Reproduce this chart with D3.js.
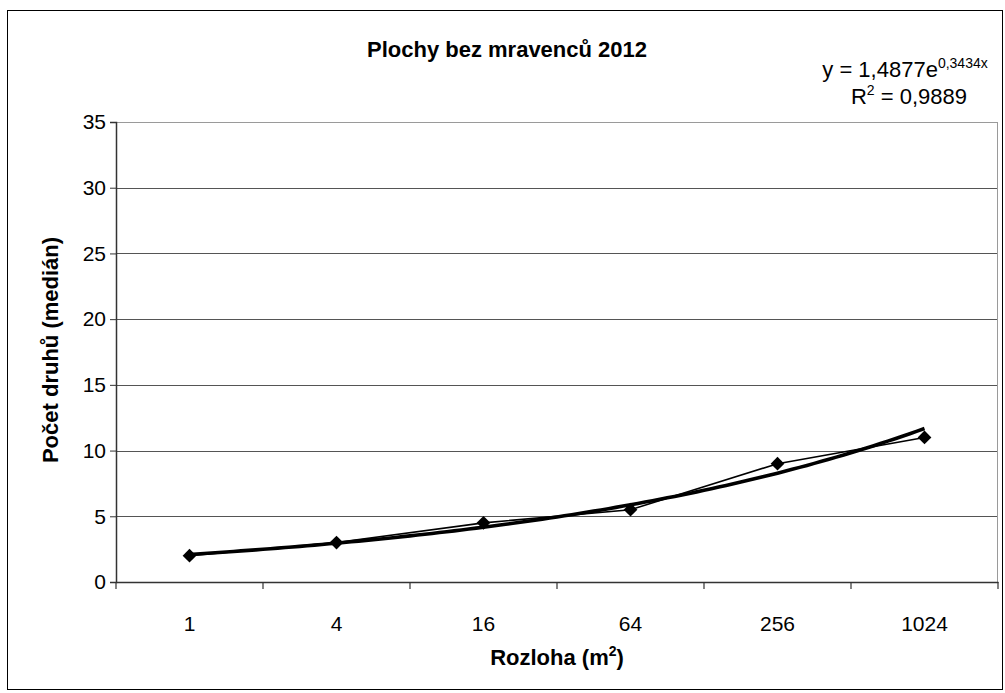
<!DOCTYPE html>
<html>
<head>
<meta charset="utf-8">
<script src="https://cdn.jsdelivr.net/npm/d3@7"></script>
<style>
  body { margin: 0; background: #fff; }
  text { font-family: "Liberation Sans", Arial, sans-serif; }
</style>
</head>
<body>
<svg id="chart"></svg>
<script>
const width = 1005, height = 693;

// data
const categories = ["1", "4", "16", "64", "256", "1024"];
const values = [2, 3, 4.5, 5.5, 9, 11];
const yTicks = [0, 5, 10, 15, 20, 25, 30, 35];
// exponential trendline as printed on the chart
const trendA = 1.4877, trendB = 0.3434;

const margin = {left: 116, right: 7, top: 122, bottom: 111};
const tickFont = 21, titleFont = 22;

const svg = d3.select("#chart")
  .attr("width", width)
  .attr("height", height);

// outer frame
svg.append("rect")
  .attr("x", 7.5).attr("y", 10.5)
  .attr("width", 995).attr("height", 679)
  .attr("fill", "#fff")
  .attr("stroke", "#000")
  .attr("stroke-width", 1);

const x = d3.scaleBand()
  .domain(categories)
  .range([margin.left, width - margin.right])
  .padding(0);

const y = d3.scaleLinear()
  .domain([0, 35])
  .range([height - margin.bottom, margin.top]);

// gridlines
svg.append("g")
  .selectAll("line")
  .data(yTicks.filter(d => d > 0))
  .enter().append("line")
  .attr("x1", margin.left).attr("x2", width - margin.right)
  .attr("y1", d => Math.round(y(d)) + 0.5).attr("y2", d => Math.round(y(d)) + 0.5)
  .attr("stroke", d => d === 35 ? "#9a9a9a" : "#555")
  .attr("stroke-width", 1);

// right plot border
svg.append("line")
  .attr("x1", width - margin.right - 0.5).attr("x2", width - margin.right - 0.5)
  .attr("y1", y(35)).attr("y2", y(0))
  .attr("stroke", "#9a9a9a");

// y axis
const yAxis = svg.append("g")
  .attr("transform", `translate(${margin.left},0)`)
  .call(d3.axisLeft(y).tickValues(yTicks).tickSize(6).tickPadding(4));
yAxis.select(".domain").attr("stroke", "#333").attr("stroke-width", 1.5);
yAxis.selectAll(".tick line").attr("stroke", "#333");
yAxis.selectAll("text").attr("font-size", tickFont).attr("fill", "#000")
  .attr("font-family", "Liberation Sans, Arial, sans-serif");

// x axis
const xAxis = svg.append("g")
  .attr("transform", `translate(0,${y(0)})`)
  .call(d3.axisBottom(x).tickSize(0).tickPadding(34));
xAxis.select(".domain").attr("stroke", "#333").attr("stroke-width", 1.5);
xAxis.selectAll("text").attr("font-size", tickFont).attr("fill", "#000")
  .attr("font-family", "Liberation Sans, Arial, sans-serif");

// category boundary ticks
const bounds = d3.range(categories.length + 1).map(i => margin.left + i * x.bandwidth());
svg.append("g")
  .selectAll("line")
  .data(bounds)
  .enter().append("line")
  .attr("x1", d => d).attr("x2", d => d)
  .attr("y1", y(0)).attr("y2", y(0) + 7)
  .attr("stroke", "#333")
  .attr("stroke-width", 1.2);

// data line
const line = d3.line()
  .x((d, i) => x(categories[i]) + x.bandwidth() / 2)
  .y(d => y(d));

svg.append("path")
  .datum(values)
  .attr("d", line)
  .attr("fill", "none")
  .attr("stroke", "#000")
  .attr("stroke-width", 1.6);

// trendline, drawn from the printed coefficients
const trendPts = d3.range(1, 6.0001, 0.05).map(t => [t, trendA * Math.exp(trendB * t)]);
const trendX = d3.scaleLinear()
  .domain([1, categories.length])
  .range([x(categories[0]) + x.bandwidth() / 2, x(categories[categories.length - 1]) + x.bandwidth() / 2]);

svg.append("path")
  .datum(trendPts)
  .attr("d", d3.line().x(d => trendX(d[0])).y(d => y(d[1])))
  .attr("fill", "none")
  .attr("stroke", "#000")
  .attr("stroke-width", 3.6);

// markers
svg.append("g")
  .selectAll("path")
  .data(values)
  .enter().append("path")
  .attr("transform", (d, i) => `translate(${x(categories[i]) + x.bandwidth() / 2},${y(d)})`)
  .attr("d", d3.symbol(d3.symbolDiamond2, 120))
  .attr("fill", "#000");

// title
svg.append("text")
  .attr("x", 507).attr("y", 57)
  .attr("text-anchor", "middle")
  .attr("font-size", titleFont).attr("font-weight", "bold")
  .text("Plochy bez mravenců 2012");

// trendline equation
const eq = svg.append("text")
  .attr("x", 905).attr("y", 77)
  .attr("text-anchor", "middle")
  .attr("font-size", 22);
eq.append("tspan").text("y = 1,4877e");
eq.append("tspan").attr("font-size", 14).attr("dy", -9).text("0,3434x");

const r2 = svg.append("text")
  .attr("x", 909).attr("y", 104)
  .attr("text-anchor", "middle")
  .attr("font-size", 22);
r2.append("tspan").text("R");
r2.append("tspan").attr("font-size", 14).attr("dy", -9).text("2");
r2.append("tspan").attr("dy", 9).text(" = 0,9889");

// axis titles
svg.append("text")
  .attr("transform", "translate(58,350) rotate(-90)")
  .attr("text-anchor", "middle")
  .attr("font-size", titleFont).attr("font-weight", "bold")
  .text("Počet druhů (medián)");

const xt = svg.append("text")
  .attr("x", 557).attr("y", 665)
  .attr("text-anchor", "middle")
  .attr("font-size", titleFont).attr("font-weight", "bold");
xt.append("tspan").text("Rozloha (m");
xt.append("tspan").attr("font-size", 14).attr("dy", -9).text("2");
xt.append("tspan").attr("dy", 9).text(")");
</script>
</body>
</html>
